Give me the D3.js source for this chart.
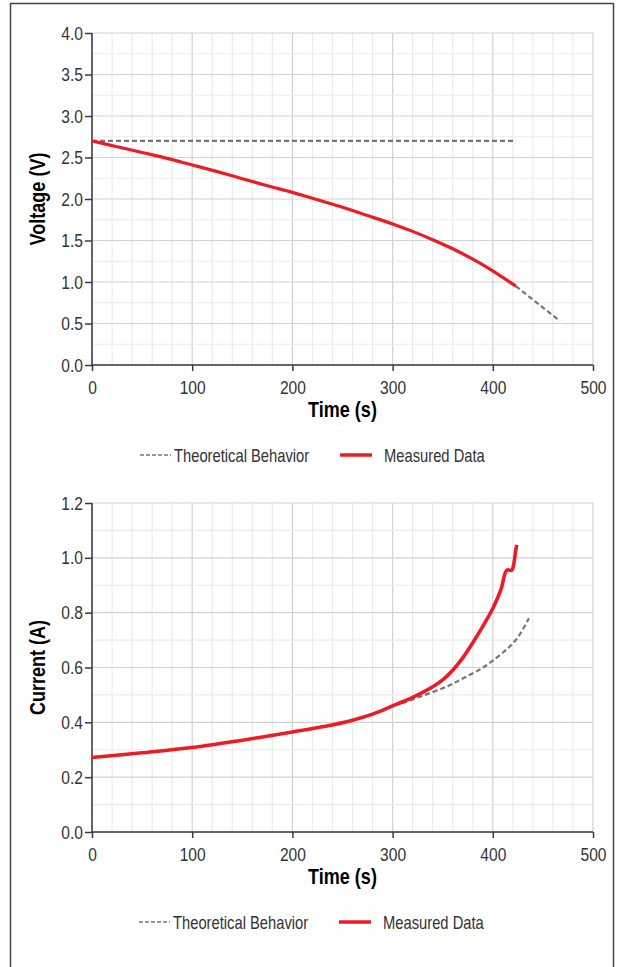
<!DOCTYPE html>
<html>
<head>
<meta charset="utf-8">
<script src="https://cdn.jsdelivr.net/npm/d3@7"></script>
<style>
  body { margin: 0; background: #fff; }
  svg { display: block; font-family: "Liberation Sans", Arial, sans-serif; }
</style>
</head>
<body>
<div id="chart"></div>
<script>
// values
const timeTicks = [0, 100, 200, 300, 400, 500];
const voltageTicks = [0, 0.5, 1, 1.5, 2, 2.5, 3, 3.5, 4];
const currentTicks = [0, 0.2, 0.4, 0.6, 0.8, 1.0, 1.2];

const measuredVoltage = [
  [0, 2.70], [25, 2.63], [50, 2.56], [75, 2.49], [100, 2.41], [125, 2.33],
  [150, 2.245], [175, 2.16], [200, 2.08], [225, 1.99], [250, 1.90], [275, 1.80],
  [300, 1.70], [320, 1.61], [340, 1.51], [360, 1.40], [380, 1.275], [400, 1.135],
  [410, 1.055], [423, 0.95]
];
const theoreticalVoltageFlat = [[0, 2.70], [421, 2.70]];
const theoreticalVoltageTail = [[423, 0.95], [467, 0.53]];

const measuredCurrent = [
  [0, 0.272], [50, 0.289], [100, 0.308], [150, 0.335], [200, 0.365], [233, 0.386],
  [260, 0.408], [280, 0.43], [300, 0.46], [310, 0.475], [321, 0.493], [340, 0.53],
  [350, 0.555], [360, 0.59], [370, 0.635], [380, 0.69], [390, 0.75], [400, 0.815],
  [408, 0.883], [414, 0.955], [419, 0.955], [421, 0.98], [423, 1.03], [424, 1.047]
];
const theoreticalCurrent = [
  [310, 0.47], [330, 0.497], [355, 0.532], [370, 0.56], [388, 0.595], [400, 0.625],
  [415, 0.67], [425, 0.71], [436, 0.78]
];

const legendLabels = ["Theoretical Behavior", "Measured Data"];

const W = 621, H = 967;
const RED = "#ed1c24", GREY = "#757575";
const SQUEEZE = 0.82; // narrow the sans face to look like a condensed one

const svg = d3.select("#chart").append("svg")
    .attr("width", W)
    .attr("height", H);

// outer frame
svg.append("rect")
    .attr("x", 10.5).attr("y", 3.5)
    .attr("width", 603).attr("height", H + 5)
    .attr("fill", "none")
    .attr("stroke", "#444")
    .attr("stroke-width", 1.5);

const drawPanel = p => {
    const x = d3.scaleLinear().domain([0, 500]).range([92, 593]);
    const y = d3.scaleLinear().domain([0, p.yMax]).range([p.bottom, p.top]);
    const g = svg.append("g");

    // grid
    g.selectAll(".vgrid")
        .data(d3.range(0, 501, 20))
        .join("line")
        .attr("x1", d => x(d)).attr("x2", d => x(d))
        .attr("y1", p.top).attr("y2", p.bottom)
        .attr("stroke", d => d % 100 === 0 ? "#d2d2d2" : "#ebebeb")
        .attr("stroke-width", 1.2);
    g.selectAll(".hgrid")
        .data(d3.range(0, p.yMax + 1e-9, p.minorStep))
        .join("line")
        .attr("x1", x(0)).attr("x2", x(500))
        .attr("y1", d => y(d)).attr("y2", d => y(d))
        .attr("stroke", (d, i) => i % 2 === 0 ? "#d2d2d2" : "#ebebeb")
        .attr("stroke-width", 1.2);

    // axes
    const xAxis = g.append("g")
        .attr("transform", `translate(0,${p.bottom})`)
        .call(d3.axisBottom(x).tickValues(timeTicks).tickSize(6).tickPadding(10).tickFormat(d3.format("d")));
    const yAxis = g.append("g")
        .attr("transform", `translate(${x(0)},0)`)
        .call(d3.axisLeft(y).tickValues(p.ticks).tickSize(7).tickPadding(2).tickFormat(d3.format(".1f")));
    [xAxis, yAxis].forEach(a => {
        a.select(".domain").attr("stroke", "#3a3a3a").attr("stroke-width", 1.5);
        a.selectAll(".tick line").attr("stroke", "#3a3a3a").attr("stroke-width", 1.5);
        a.selectAll("text")
            .attr("fill", "#333")
            .style("font-size", "19px")
            .style("font-family", null);
    });
    xAxis.selectAll(".tick text").attr("transform", `scale(${SQUEEZE},1)`);
    yAxis.selectAll(".tick text")
        .attr("x", null)
        .attr("transform", `translate(-9,0) scale(${SQUEEZE},1)`);
    yAxis.select(".domain").attr("d", `M0,${p.top}V${p.bottom}`);
    xAxis.select(".domain").attr("d", `M${x(0)},0H${x(500)}`);

    // axis titles
    g.append("text")
        .attr("transform", `translate(${(x(0) + x(500)) / 2},${p.bottom + 52}) scale(${SQUEEZE},1)`)
        .attr("text-anchor", "middle")
        .attr("font-weight", "bold")
        .attr("font-size", 22)
        .text("Time (s)");
    g.append("text")
        .attr("transform", `translate(45,${(p.top + p.bottom) / 2}) rotate(-90) scale(${SQUEEZE},1)`)
        .attr("text-anchor", "middle")
        .attr("font-weight", "bold")
        .attr("font-size", 22)
        .text(p.yTitle);

    const line = d3.line()
        .x(d => x(d[0]))
        .y(d => y(d[1]))
        .curve(d3.curveCatmullRom);

    p.theory.forEach(series => {
        g.append("path")
            .datum(series)
            .attr("d", line)
            .attr("fill", "none")
            .attr("stroke", GREY)
            .attr("stroke-width", 2.2)
            .attr("stroke-dasharray", "5,3");
    });
    g.append("path")
        .datum(p.measured)
        .attr("d", line)
        .attr("fill", "none")
        .attr("stroke", RED)
        .attr("stroke-width", p.redWidth)
        .attr("stroke-linejoin", "round");

    // legend
    const lg = g.append("g").attr("transform", `translate(${p.legendX},${p.legendY})`);
    lg.append("line")
        .attr("x1", 0).attr("x2", 31)
        .attr("stroke", GREY).attr("stroke-width", 1.5)
        .attr("stroke-dasharray", "4,2");
    lg.append("text")
        .attr("transform", `translate(34,6.5) scale(${SQUEEZE},1)`)
        .attr("font-size", 18).attr("fill", "#333")
        .text(legendLabels[0]);
    lg.append("line")
        .attr("x1", 200).attr("x2", 232)
        .attr("stroke", RED).attr("stroke-width", 3.5);
    lg.append("text")
        .attr("transform", `translate(244,6.5) scale(${SQUEEZE},1)`)
        .attr("font-size", 18).attr("fill", "#333")
        .text(legendLabels[1]);
};

drawPanel({
    top: 33, bottom: 365, yMax: 4, minorStep: 0.25, ticks: voltageTicks,
    yTitle: "Voltage (V)",
    measured: measuredVoltage,
    theory: [theoreticalVoltageFlat, theoreticalVoltageTail],
    redWidth: 3.2,
    legendY: 455, legendX: 140
});

drawPanel({
    top: 503, bottom: 832, yMax: 1.2, minorStep: 0.1, ticks: currentTicks,
    yTitle: "Current (A)",
    measured: measuredCurrent,
    theory: [theoreticalCurrent],
    redWidth: 3.6,
    legendY: 922, legendX: 139
});
</script>
</body>
</html>
